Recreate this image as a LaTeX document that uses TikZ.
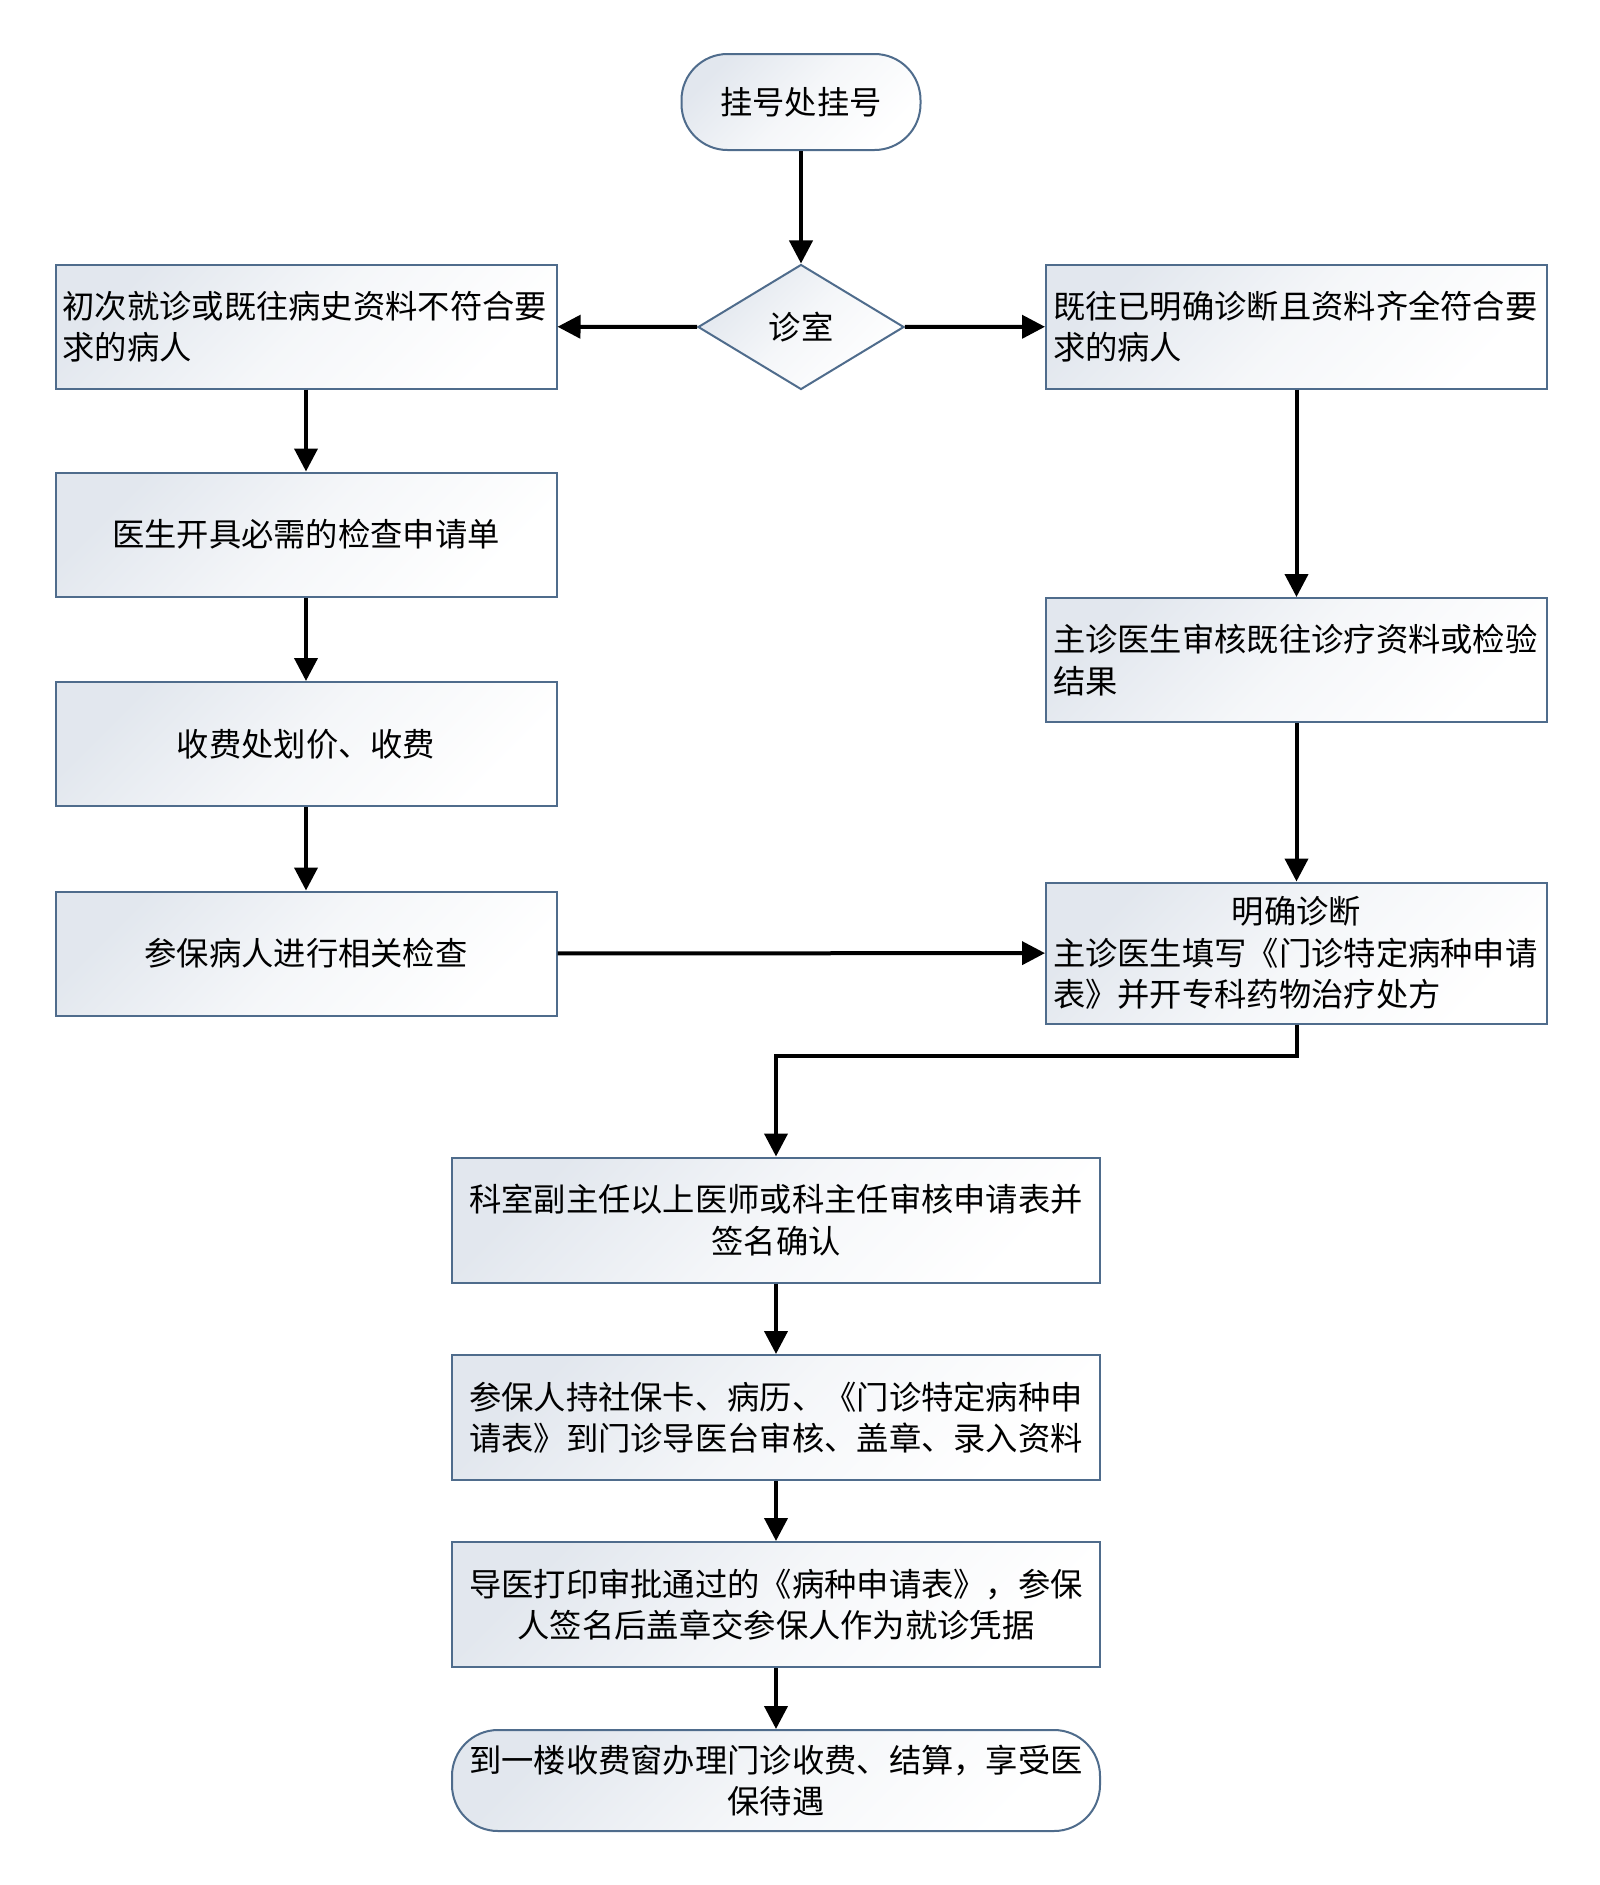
\documentclass[tikz,border=0pt]{standalone}
\usepackage{fontspec}
\setmainfont{Noto Sans CJK SC}
\usetikzlibrary{arrows.meta,shapes.geometric}
\definecolor{bordc}{HTML}{4F6C8C}
\definecolor{gradc}{HTML}{E2E7EE}
\tikzset{
  base/.style={draw=bordc, line width=2pt, top color=gradc, bottom color=white, middle color=gradc!35!white, shading angle=45,
    font=\fontsize{32.3pt}{41.5pt}\selectfont, inner sep=0pt, inner xsep=7pt},
  lbox/.style={base, rectangle, minimum width=501pt, minimum height=124pt, text width=487pt, align=left},
  cbox/.style={base, rectangle, minimum width=648pt, minimum height=125pt, text width=634pt, align=center},
  term/.style={base, rectangle, rounded corners=46pt},
  dec/.style={base, diamond, aspect=1.65, minimum width=206pt, minimum height=125pt},
  arr/.style={line width=4pt, -{Triangle[length=23pt,width=23pt]}}
}
\begin{document}
\begin{tikzpicture}[x=1pt,y=-1pt]
\useasboundingbox[fill=white] (0,0) rectangle (1600,1885);
\node[term, minimum width=239pt, minimum height=96pt] (start) at (801,102) {挂号处挂号};
\node[dec] (room) at (801,327) {诊室};
\node[lbox] (L1) at (306,326.5) {初次就诊或既往病史资料不符合要\\求的病人};
\node[lbox, align=center] (L2) at (306,534.5) {医生开具必需的检查申请单};
\node[lbox, align=center] (L3) at (306,744) {收费处划价、收费};
\node[lbox, align=center] (L4) at (306,953.5) {参保病人进行相关检查};
\node[lbox] (R1) at (1296.5,326.5) {既往已明确诊断且资料齐全符合要\\求的病人};
\node[lbox] (R2) at (1296.5,660) {主诊医生审核既往诊疗资料或检验\\结果};
\node[lbox, minimum height=141pt] (R3) at (1296.5,953) {\makebox[\linewidth][c]{明确诊断}\\主诊医生填写《门诊特定病种申请\\表》并开专科药物治疗处方};
\node[cbox] (B5) at (776,1220) {科室副主任以上医师或科主任审核申请表并\\签名确认};
\node[cbox] (B6) at (776,1417.5) {参保人持社保卡、病历、《门诊特定病种申\\请表》到门诊导医台审核、盖章、录入资料};
\node[cbox] (B7) at (776,1604.5) {导医打印审批通过的《病种申请表》，参保\\人签名后盖章交参保人作为就诊凭据};
\node[term, minimum width=648pt, minimum height=101pt, text width=634pt, align=center] (end) at (776,1780.5) {到一楼收费窗办理门诊收费、结算，享受医\\保待遇};
\coordinate (elb) at (776,1055.5);
\draw[arr] (start) -- (room);
\draw[arr] (room) -- (L1);
\draw[arr] (room) -- (R1);
\draw[arr] (L1) -- (L2);
\draw[arr] (L2) -- (L3);
\draw[arr] (L3) -- (L4);
\draw[arr] (R1) -- (R2);
\draw[arr] (R2) -- (R3);
\draw[arr] (L4) -- (R3);
\draw[arr] (R3.south) |- (elb) -- (B5.north);
\draw[arr] (B5) -- (B6);
\draw[arr] (B6) -- (B7);
\draw[arr] (B7) -- (end);
\end{tikzpicture}
\end{document}
